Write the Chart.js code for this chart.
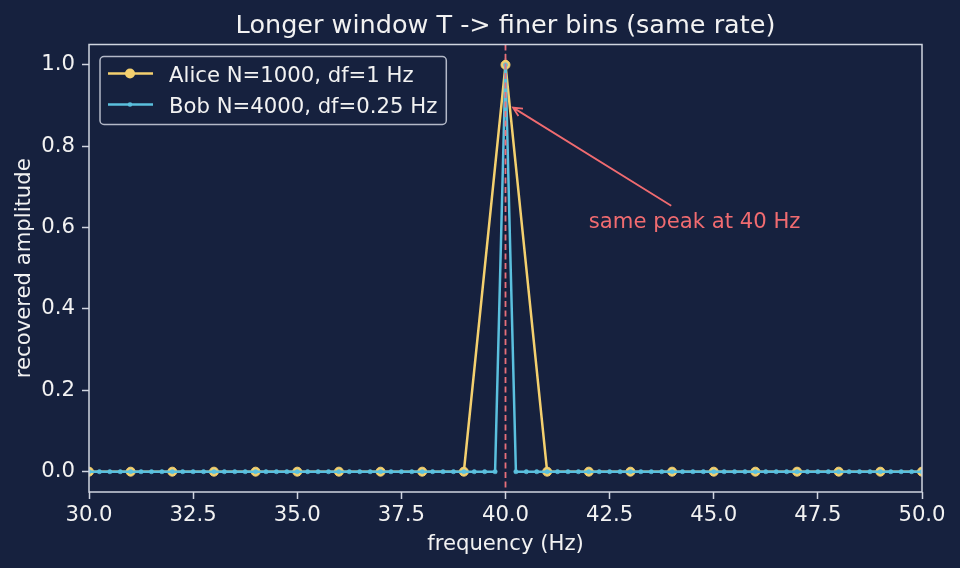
<!DOCTYPE html>
<html>
<head>
<meta charset="utf-8">
<script src="https://cdn.jsdelivr.net/npm/chart.js@4.4.1/dist/chart.umd.min.js"></script>
<style>
  html, body { margin: 0; padding: 0; background: #16213e; }
  #wrap { width: 960px; height: 568px; }
</style>
</head>
<body>
<div id="wrap"><canvas id="spectrumChart" width="960" height="568"></canvas></div>
<script>
/* Spectrum: Alice (1 Hz bins) vs Bob (0.25 Hz bins) */

const aliceFreq = [30, 31, 32, 33, 34, 35, 36, 37, 38, 39, 40, 41, 42, 43, 44, 45, 46, 47, 48, 49, 50];
const aliceAmp  = [0, 0, 0, 0, 0, 0, 0, 0, 0, 0, 1.0, 0, 0, 0, 0, 0, 0, 0, 0, 0, 0];

const bobFreq = [
  30, 30.25, 30.5, 30.75, 31, 31.25, 31.5, 31.75, 32, 32.25, 32.5, 32.75, 33, 33.25, 33.5, 33.75, 34, 34.25, 34.5, 34.75,
  35, 35.25, 35.5, 35.75, 36, 36.25, 36.5, 36.75, 37, 37.25, 37.5, 37.75, 38, 38.25, 38.5, 38.75, 39, 39.25, 39.5, 39.75,
  40,
  40.25, 40.5, 40.75, 41, 41.25, 41.5, 41.75, 42, 42.25, 42.5, 42.75, 43, 43.25, 43.5, 43.75, 44, 44.25, 44.5, 44.75, 45,
  45.25, 45.5, 45.75, 46, 46.25, 46.5, 46.75, 47, 47.25, 47.5, 47.75, 48, 48.25, 48.5, 48.75, 49, 49.25, 49.5, 49.75, 50
];
const bobAmp = [
  0, 0, 0, 0, 0, 0, 0, 0, 0, 0, 0, 0, 0, 0, 0, 0, 0, 0, 0, 0,
  0, 0, 0, 0, 0, 0, 0, 0, 0, 0, 0, 0, 0, 0, 0, 0, 0, 0, 0, 0,
  1.0,
  0, 0, 0, 0, 0, 0, 0, 0, 0, 0, 0, 0, 0, 0, 0, 0, 0, 0, 0, 0,
  0, 0, 0, 0, 0, 0, 0, 0, 0, 0, 0, 0, 0, 0, 0, 0, 0, 0, 0, 0
];

const xTicks = [30, 32.5, 35, 37.5, 40, 42.5, 45, 47.5, 50];
const yTicks = [0, 0.2, 0.4, 0.6, 0.8, 1.0];

const seriesLabels = ['Alice N=1000, df=1 Hz', 'Bob N=4000, df=0.25 Hz'];
const peakFreq = 40;
const annotationText = 'same peak at 40 Hz';
const annotationXY = [40.1, 0.9];     // arrow tip (data)
const annotationTextXY = [42, 0.6];   // text anchor (data)

const titleText = 'Longer window T -> finer bins (same rate)';
const xTitle = 'frequency (Hz)';
const yTitle = 'recovered amplitude';

// colours
const bgColor = '#16213e';
const fgColor = '#f2f2f2';
const spineColor = '#d0d5e0';
const aliceColor = '#f4d06f';
const bobColor = '#5bc0de';
const peakColor = '#e8707a';
const noteColor = '#f06b70';

const FONT = "'DejaVu Sans', sans-serif";
const FS = 21.2;   // tick / label / legend size
const TITLE_FS = 25.5;

Chart.defaults.font.family = FONT;
Chart.defaults.color = fgColor;

function toPoints(xs, ys) {
  return xs.map((x, i) => ({ x: x, y: ys[i] }));
}

const decor = {
  id: 'decor',
  beforeDraw(chart) {
    const c = chart.ctx;
    c.save();
    c.fillStyle = bgColor;
    c.fillRect(0, 0, chart.width, chart.height);
    c.restore();
  },
  afterDatasetsDraw(chart) {
    const c = chart.ctx;
    const ca = chart.chartArea;
    const xs = chart.scales.x, ys = chart.scales.y;

    // dashed marker at the peak
    const px = xs.getPixelForValue(peakFreq);
    c.save();
    c.strokeStyle = peakColor;
    c.lineWidth = 1.8;
    c.setLineDash([6, 3.5]);
    c.beginPath();
    c.moveTo(px, ca.top);
    c.lineTo(px, ca.bottom);
    c.stroke();
    c.restore();

    // axes box
    c.save();
    c.strokeStyle = spineColor;
    c.lineWidth = 1.5;
    c.strokeRect(ca.left, ca.top, ca.right - ca.left, ca.bottom - ca.top);
    c.restore();

    // annotation text + arrow
    c.save();
    c.font = FS + 'px ' + FONT;
    c.fillStyle = noteColor;
    c.textAlign = 'left';
    c.textBaseline = 'alphabetic';
    const tx = xs.getPixelForValue(annotationTextXY[0]);
    const ty = ys.getPixelForValue(annotationTextXY[1]);
    c.fillText(annotationText, tx, ty);
    const tw = c.measureText(annotationText).width;
    const boxTop = ty - 0.93 * FS, boxBot = ty + 0.24 * FS;
    const cx = tx + tw / 2, cy = (boxTop + boxBot) / 2;
    const hx = xs.getPixelForValue(annotationXY[0]);
    const hy = ys.getPixelForValue(annotationXY[1]);
    let dx = hx - cx, dy = hy - cy;
    const len = Math.hypot(dx, dy);
    dx /= len; dy /= len;
    const t0 = (boxTop - cy) / dy;
    const sx = cx + dx * (t0 + 4), sy = cy + dy * (t0 + 4);
    const ex = hx - dx * 4, ey = hy - dy * 4;
    c.strokeStyle = noteColor;
    c.lineWidth = 1.8;
    c.beginPath();
    c.moveTo(sx, sy);
    c.lineTo(ex, ey);
    const ang = Math.atan2(dy, dx);
    const hl = 10, ha = 0.45;
    c.moveTo(ex - hl * Math.cos(ang - ha), ey - hl * Math.sin(ang - ha));
    c.lineTo(ex, ey);
    c.lineTo(ex - hl * Math.cos(ang + ha), ey - hl * Math.sin(ang + ha));
    c.stroke();
    c.restore();

    // legend
    c.save();
    c.font = FS + 'px ' + FONT;
    const maxW = Math.max(...seriesLabels.map(s => c.measureText(s).width));
    const lx = ca.left + 11, ly = ca.top + 12;
    const lw = 69 + maxW + 9, lh = 68;
    c.fillStyle = bgColor;
    c.strokeStyle = 'rgba(208,213,224,0.85)';
    c.lineWidth = 1.5;
    c.beginPath();
    c.roundRect(lx, ly, lw, lh, 4);
    c.fill();
    c.stroke();
    const rows = [
      { color: aliceColor, r: 5, y: ly + 17 },
      { color: bobColor, r: 2.3, y: ly + 48 }
    ];
    rows.forEach((row, i) => {
      c.strokeStyle = row.color;
      c.lineWidth = 2.5;
      c.beginPath();
      c.moveTo(lx + 8, row.y);
      c.lineTo(lx + 53, row.y);
      c.stroke();
      c.fillStyle = row.color;
      c.beginPath();
      c.arc(lx + 30, row.y, row.r, 0, Math.PI * 2);
      c.fill();
      c.fillStyle = fgColor;
      c.textAlign = 'left';
      c.textBaseline = 'alphabetic';
      c.fillText(seriesLabels[i], lx + 69, row.y + 8);
    });
    c.restore();

    // titles
    c.save();
    c.fillStyle = fgColor;
    c.textAlign = 'center';
    c.textBaseline = 'alphabetic';
    c.font = TITLE_FS + 'px ' + FONT;
    c.fillText(titleText, (ca.left + ca.right) / 2, 33);
    c.font = FS + 'px ' + FONT;
    c.fillText(xTitle, (ca.left + ca.right) / 2, 550);
    c.translate(30, (ca.top + ca.bottom) / 2);
    c.rotate(-Math.PI / 2);
    c.fillText(yTitle, 0, 0);
    c.restore();
  }
};

const ctx = document.getElementById('spectrumChart').getContext('2d');
const spectrumChart = new Chart(ctx, {
  type: 'line',
  data: {
    datasets: [{
      label: seriesLabels[0],
      data: toPoints(aliceFreq, aliceAmp),
      borderColor: aliceColor,
      backgroundColor: aliceColor,
      pointBackgroundColor: aliceColor,
      pointBorderColor: aliceColor,
      borderWidth: 2.5,
      pointRadius: 4.5,
      pointBorderWidth: 1,
      tension: 0,
      order: 2
    }, {
      label: seriesLabels[1],
      data: toPoints(bobFreq, bobAmp),
      borderColor: bobColor,
      backgroundColor: bobColor,
      pointBackgroundColor: bobColor,
      pointBorderColor: bobColor,
      borderWidth: 2.5,
      pointRadius: 2.2,
      pointBorderWidth: 0.5,
      tension: 0,
      order: 1
    }]
  },
  options: {
    responsive: false,
    devicePixelRatio: 1,
    animation: false,
    layout: { padding: { top: 44.5, right: 38, bottom: 0, left: 0 } },
    plugins: {
      legend: { display: false },
      title: { display: false },
      tooltip: { enabled: false }
    },
    scales: {
      x: {
        type: 'linear',
        min: 30,
        max: 50,
        afterBuildTicks: s => { s.ticks = xTicks.map(v => ({ value: v })); },
        afterFit: s => { s.height = 76; },
        ticks: {
          callback: v => Number(v).toFixed(1),
          color: fgColor,
          font: { size: FS },
          padding: 4,
          maxRotation: 0,
          autoSkip: false
        },
        grid: {
          display: true,
          drawOnChartArea: false,
          drawTicks: true,
          tickLength: 7,
          tickColor: spineColor,
          tickWidth: 1.5
        },
        border: { display: false }
      },
      y: {
        type: 'linear',
        min: -0.05,
        max: 1.05,
        afterBuildTicks: s => { s.ticks = yTicks.map(v => ({ value: v })); },
        afterFit: s => { s.width = 89; },
        ticks: {
          callback: v => Number(v).toFixed(1),
          color: fgColor,
          font: { size: FS },
          padding: 7,
          autoSkip: false
        },
        grid: {
          display: true,
          drawOnChartArea: false,
          drawTicks: true,
          tickLength: 7,
          tickColor: spineColor,
          tickWidth: 1.5
        },
        border: { display: false }
      }
    }
  },
  plugins: [decor]
});
</script>
</body>
</html>
